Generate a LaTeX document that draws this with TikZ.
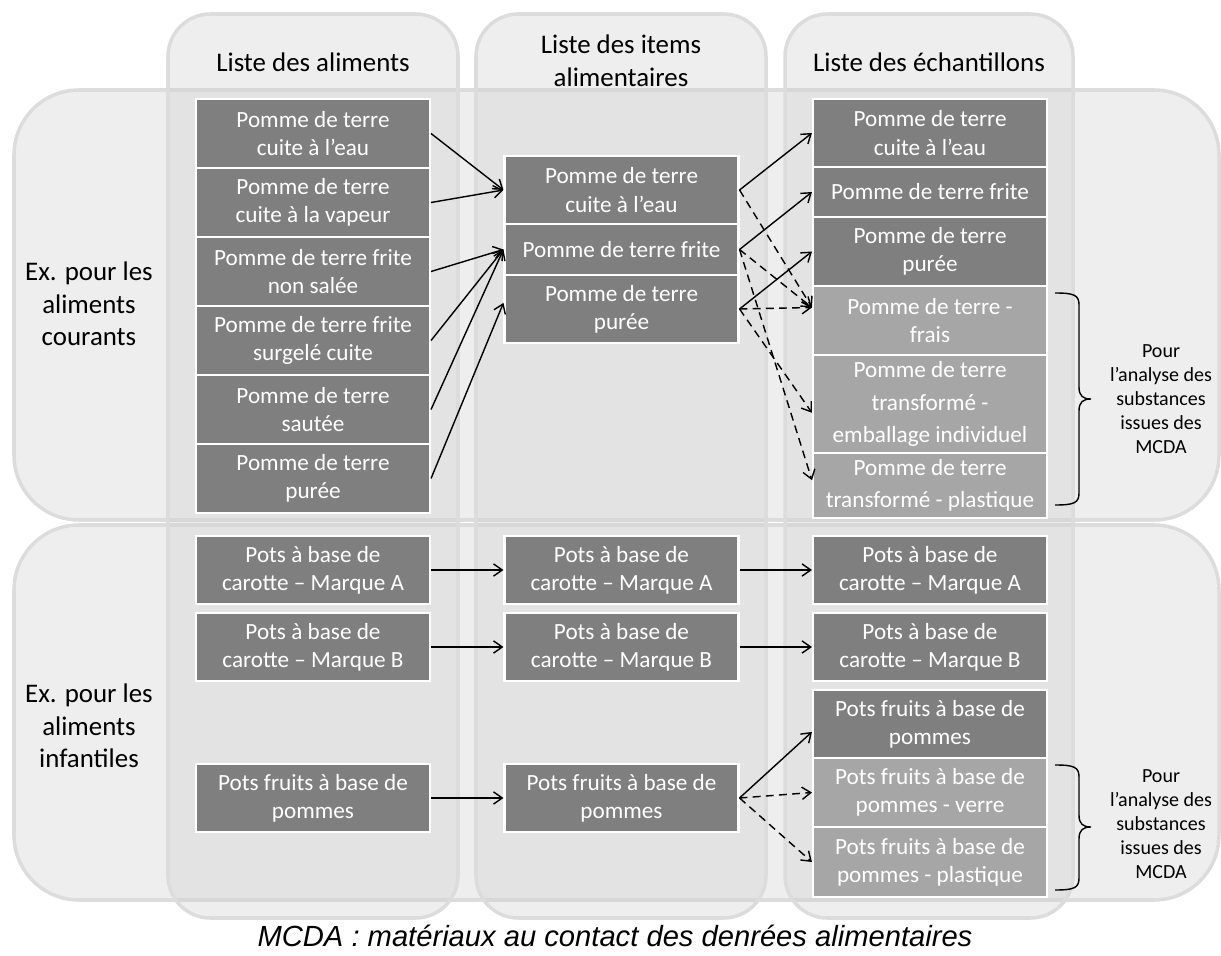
\documentclass[tikz,border=0pt]{standalone}
\usepackage{fontspec}
\setmainfont{Carlito}
\newfontfamily\capfont{Liberation Sans}
\usetikzlibrary{arrows.meta}

\definecolor{boxdark}{HTML}{7F7F7F}
\definecolor{boxlight}{HTML}{A6A6A6}
\definecolor{panelline}{HTML}{DCDCDC}
\definecolor{panelfill}{HTML}{CFCFCF}

\begin{document}
\begin{tikzpicture}[x=0.02cm, y=-0.02cm,
  panel/.style={draw=panelline, line width=2pt, fill=panelfill, fill opacity=0.35},
  box/.style={draw=white, line width=1.2pt, text=white, align=center, minimum width=4.68cm, inner sep=2pt, font=\fontsize{13.2}{16}\selectfont},
  darkbox/.style={box, fill=boxdark},
  lightbox/.style={box, fill=boxlight},
  head/.style={align=center, font=\fontsize{15.3}{18.5}\selectfont},
  note/.style={align=center, font=\fontsize{11.4}{13.7}\selectfont},
  link/.style={-{Straight Barb[length=5pt,width=7pt]}, line width=0.8pt},
  dlink/.style={link, dash pattern=on 4.5pt off 3pt},
  brace/.style={line width=0.8pt}]
\useasboundingbox (0,0) rectangle (1221,956);

% Panels
\draw[panel, rounded corners=1.3cm] (14,90) rectangle (1219,520);
\draw[panel, rounded corners=1.3cm] (14,525) rectangle (1219,900);
\draw[panel, rounded corners=0.85cm] (168,14) rectangle (458,918);
\draw[panel, rounded corners=0.85cm] (476,14) rectangle (766,918);
\draw[panel, rounded corners=0.85cm] (785,14) rectangle (1073,918);

% Headers
\node[head] (hAl) at (313,62) {Liste des aliments};
\node[head] (hIt) at (621,61) {Liste des items\\alimentaires};
\node[head] (hEc) at (929,62) {Liste des échantillons};
\node[head] (rCour) at (89,304) {Ex. pour les\\aliments\\courants};
\node[head] (rInf) at (89,726) {Ex. pour les\\aliments\\infantiles};

% Nodes - aliments courants
\node[darkbox, minimum height=1.38cm] (alEau) at (313,133.5) {Pomme de terre\\cuite à l’eau};
\node[darkbox, minimum height=1.38cm] (alVap) at (313,202.5) {Pomme de terre\\cuite à la vapeur};
\node[darkbox, minimum height=1.38cm] (alFrite) at (313,271.5) {Pomme de terre frite\\non salée};
\node[darkbox, minimum height=1.38cm] (alSurg) at (313,340.5) {Pomme de terre frite\\surgelé cuite};
\node[darkbox, minimum height=1.38cm] (alSaut) at (313,409.5) {Pomme de terre\\sautée};
\node[darkbox, minimum height=1.38cm] (alPuree) at (313,478.5) {Pomme de terre\\purée};

\node[darkbox, minimum height=1.36cm] (itEau) at (621.5,190) {Pomme de terre\\cuite à l’eau};
\node[darkbox, minimum height=1.02cm] (itFrite) at (621.5,249.5) {Pomme de terre frite};
\node[darkbox, minimum height=1.36cm] (itPuree) at (621.5,309) {Pomme de terre\\purée};

\node[darkbox, minimum height=1.36cm] (ecEau) at (930,133) {Pomme de terre\\cuite à l’eau};
\node[darkbox, minimum height=1.0cm] (ecFrite) at (930,192) {Pomme de terre frite};
\node[darkbox, minimum height=1.38cm] (ecPuree) at (930,251.5) {Pomme de terre\\purée};
\node[lightbox, minimum height=1.38cm] (ecFrais) at (930,320.5) {Pomme de terre -\\frais};
\node[lightbox, minimum height=1.96cm, font=\fontsize{13.2}{18.5}\selectfont] (ecEmb) at (930,404) {Pomme de terre\\transformé -\\emballage individuel};
\node[lightbox, minimum height=1.3cm, font=\fontsize{13.2}{18.5}\selectfont] (ecPlast) at (930,485.5) {Pomme de terre\\transformé - plastique};

% Nodes - aliments infantiles
\node[darkbox, minimum height=1.36cm] (alCarA) at (313,570) {Pots à base de\\carotte – Marque A};
\node[darkbox, minimum height=1.36cm] (alCarB) at (313,647) {Pots à base de\\carotte – Marque B};
\node[darkbox, minimum height=1.36cm] (alPom) at (313,798) {Pots fruits à base de\\pommes};

\node[darkbox, minimum height=1.36cm] (itCarA) at (621.5,570) {Pots à base de\\carotte – Marque A};
\node[darkbox, minimum height=1.36cm] (itCarB) at (621.5,647) {Pots à base de\\carotte – Marque B};
\node[darkbox, minimum height=1.36cm] (itPom) at (621.5,798) {Pots fruits à base de\\pommes};

\node[darkbox, minimum height=1.36cm] (ecCarA) at (930,570) {Pots à base de\\carotte – Marque A};
\node[darkbox, minimum height=1.36cm] (ecCarB) at (930,647) {Pots à base de\\carotte – Marque B};
\node[darkbox, minimum height=1.36cm] (ecPom) at (930,724) {Pots fruits à base de\\pommes};
\node[lightbox, minimum height=1.38cm] (ecVerre) at (930,792.5) {Pots fruits à base de\\pommes - verre};
\node[lightbox, minimum height=1.4cm] (ecPomPl) at (930,862) {Pots fruits à base de\\pommes - plastique};

% Arrows
\draw[link] (alEau.east) -- (itEau.west);
\draw[link] (alVap.east) -- (itEau.west);
\draw[link] (alFrite.east) -- (itFrite.west);
\draw[link] (alSurg.east) -- (itFrite.west);
\draw[link] (alSaut.east) -- (itFrite.west);
\draw[link] (alPuree.east) -- ([yshift=3.5pt]itPuree.west);

\draw[link] (itEau.east) -- (ecEau.west);
\draw[link] (itFrite.east) -- (ecFrite.west);
\draw[link] (itPuree.east) -- (ecPuree.west);
\draw[dlink] (itEau.east) -- ([yshift=7.4pt]ecFrais.west);
\draw[dlink] (itFrite.east) -- ([yshift=7.4pt]ecFrais.west);
\draw[dlink] (itPuree.east) -- ([yshift=7.4pt]ecFrais.west);
\draw[dlink] (itPuree.east) -- ([yshift=-5pt]ecEmb.west);
\draw[dlink] (itFrite.east) -- ([yshift=3pt]ecPlast.west);

\draw[link] (alCarA) -- (itCarA);
\draw[link] (alCarB) -- (itCarB);
\draw[link] (alPom) -- (itPom);
\draw[link] (itCarA) -- (ecCarA);
\draw[link] (itCarB) -- (ecCarB);
\draw[link] (itPom.east) -- ([yshift=-4.5pt]ecPom.west);
\draw[dlink] (itPom.east) -- (ecVerre.west);
\draw[dlink] (itPom.east) -- (ecPomPl.west);

% Annotations
\draw[brace] (1055,293) .. controls (1074,293) and (1079,295) .. (1079,305) -- (1079,387)
  .. controls (1079,396) and (1083,399) .. (1091,399) .. controls (1083,399) and (1079,402) .. (1079,411)
  -- (1079,493) .. controls (1079,503) and (1074,505) .. (1055,505);
\node[note] (mcda1) at (1161,399.5) {Pour\\l’analyse des\\substances\\issues des\\MCDA};
\draw[brace] (1055,765) .. controls (1074,765) and (1079,767) .. (1079,777) -- (1079,815)
  .. controls (1079,824) and (1083,827) .. (1091,827) .. controls (1083,827) and (1079,830) .. (1079,839)
  -- (1079,878) .. controls (1079,888) and (1074,890) .. (1055,890);
\node[note] (mcda2) at (1161,824) {Pour\\l’analyse des\\substances\\issues des\\MCDA};

\node[font=\capfont\itshape\fontsize{16.6}{20}\selectfont] (caption) at (615,936) {MCDA : matériaux au contact des denrées alimentaires};
\end{tikzpicture}
\end{document}
